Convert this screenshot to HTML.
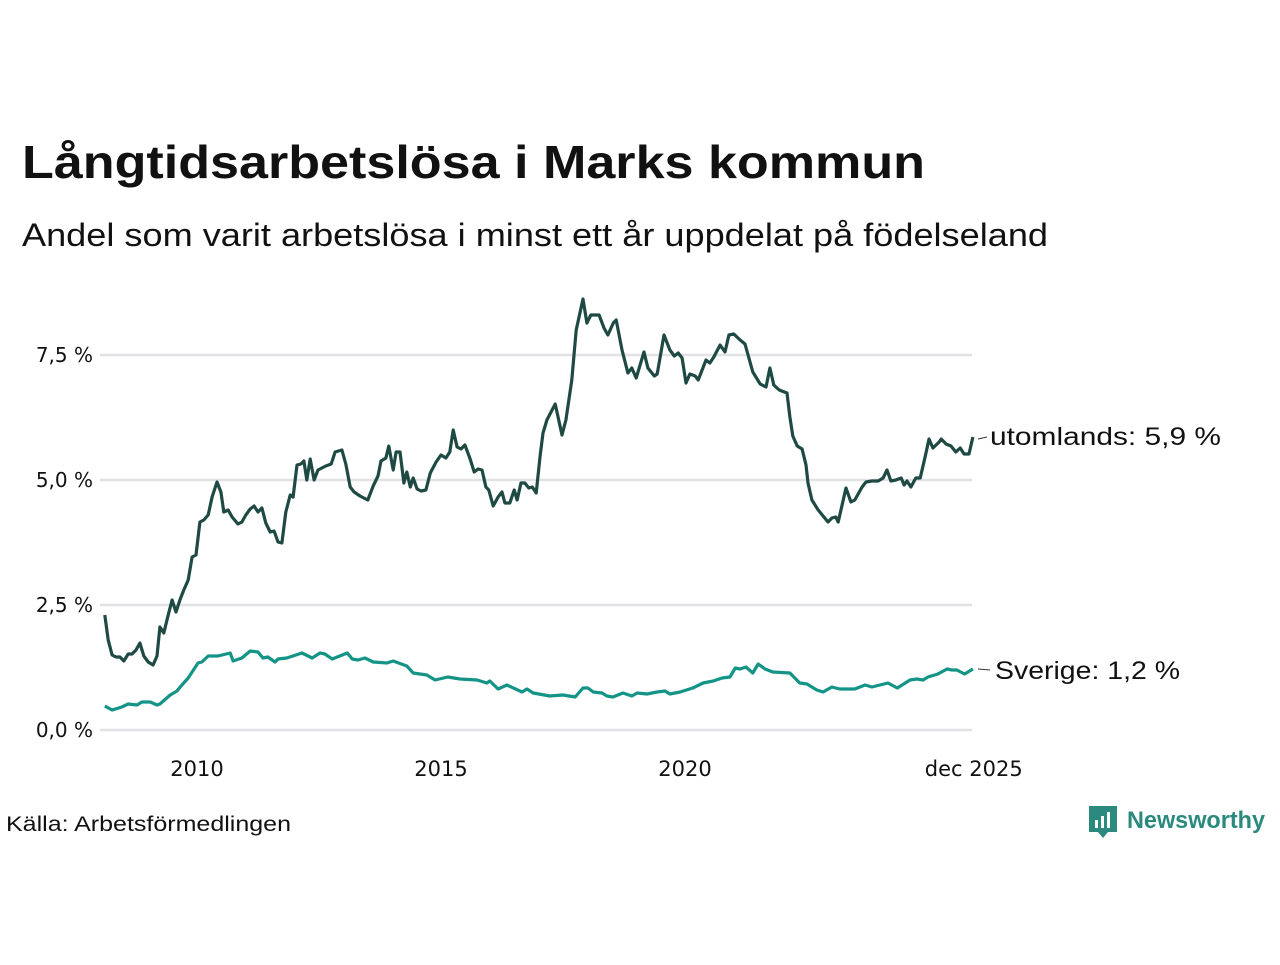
<!DOCTYPE html>
<html><head><meta charset="utf-8"><style>
body{margin:0;background:#fff;}
svg text{font-family:"Liberation Sans",sans-serif;}
svg text.dv{font-family:"DejaVu Sans",sans-serif;}
</style></head><body>
<svg width="1280" height="960" viewBox="0 0 1280 960" xmlns="http://www.w3.org/2000/svg">
<rect width="1280" height="960" fill="#fff"/>
<text x="22" y="178" font-size="46" font-weight="bold" fill="#111" textLength="903" lengthAdjust="spacingAndGlyphs">Långtidsarbetslösa i Marks kommun</text>
<text x="22" y="246" font-size="32" fill="#111" textLength="1026" lengthAdjust="spacingAndGlyphs">Andel som varit arbetslösa i minst ett år uppdelat på födelseland</text>
<g id="grid"></g><g id="axes"></g><g id="lines"></g>
<text x="6" y="831" font-size="21" fill="#111" textLength="285" lengthAdjust="spacingAndGlyphs">Källa: Arbetsförmedlingen</text>
<g>
<path d="M1089 806 h28 v26 h-9 l-5 6 l-5 -6 h-9 z" fill="#2a8a7e"/>
<rect x="1095" y="820" width="3" height="8" fill="#fff"/><rect x="1101" y="816" width="3" height="12" fill="#fff"/><rect x="1107" y="812" width="3" height="16" fill="#fff"/>
<text x="1127" y="828" font-size="24" font-weight="bold" fill="#2a8a7e" textLength="138" lengthAdjust="spacingAndGlyphs">Newsworthy</text>
</g>
</svg>
<script>
const yTicks=[0,2.5,5,7.5];
const yTickLabels=["0,0 %","2,5 %","5,0 %","7,5 %"];
const xTicks=[2010,2015,2020,2025.917];
const xTickLabels=["2010","2015","2020","dec 2025"];
const seriesNames=["utomlands","Sverige"];
const endLabels=["utomlands: 5,9 %","Sverige: 1,2 %"];
const utomDates=[.11,.18,.26,.34,.42,.50,.59,.67,.75,.83,.91,1.0,1.10,1.18,1.24,1.32,1.41,1.49,1.57,1.65,1.73,1.82,1.90,1.98,2.06,2.14,2.23,2.31,2.41,2.49,2.55,2.64,2.72,2.84,2.92,3.0,3.09,3.17,3.25,3.33,3.41,3.50,3.58,3.66,3.74,3.82,3.91,3.97,4.05,4.13,4.19,4.25,4.32,4.40,4.48,4.56,4.64,4.75,4.83,4.97,5.05,5.14,5.22,5.34,5.50,5.61,5.71,5.77,5.87,5.93,6.02,6.08,6.16,6.24,6.30,6.37,6.43,6.51,6.59,6.69,6.78,6.90,7.0,7.10,7.18,7.25,7.33,7.41,7.49,7.59,7.68,7.76,7.84,7.92,7.98,8.07,8.17,8.25,8.31,8.41,8.50,8.56,8.64,8.72,8.80,8.87,8.95,9.03,9.09,9.17,9.34,9.48,9.56,9.68,9.77,9.91,9.99,10.07,10.24,10.34,10.42,10.53,10.59,10.71,10.83,10.91,11.0,11.16,11.24,11.37,11.43,11.57,11.69,11.78,11.86,11.94,12.02,12.10,12.21,12.27,12.43,12.51,12.59,12.72,12.82,12.90,13.0,13.13,13.23,13.39,13.54,13.66,13.74,13.82,13.93,14.09,14.15,14.21,14.30,14.40,14.48,14.52,14.60,14.73,14.83,14.93,15.01,15.09,15.14,15.30,15.40,15.48,15.63,15.71,15.83,15.96,16.06,16.14,16.22,16.32,16.43,16.49,16.55,16.63,16.73,16.82,16.92,17.0,17.08,17.21,17.25,17.35,17.45,17.55,17.64,17.72,17.82,17.90];
const utomValues=[2.30,1.8,1.5,1.46,1.46,1.38,1.52,1.52,1.6,1.74,1.48,1.36,1.3,1.48,2.06,1.94,2.3,2.6,2.36,2.6,2.8,3.0,3.46,3.5,4.16,4.2,4.3,4.66,4.96,4.76,4.36,4.4,4.26,4.12,4.16,4.3,4.42,4.48,4.36,4.44,4.14,3.96,3.98,3.76,3.74,4.36,4.7,4.66,5.3,5.32,5.38,5.0,5.42,5.0,5.2,5.24,5.28,5.32,5.56,5.6,5.32,4.86,4.76,4.68,4.6,4.88,5.08,5.38,5.44,5.68,5.2,5.56,5.56,4.94,5.16,4.86,5.04,4.82,4.78,4.8,5.14,5.36,5.5,5.44,5.56,6.0,5.66,5.62,5.7,5.44,5.16,5.22,5.2,4.86,4.8,4.48,4.66,4.76,4.54,4.54,4.8,4.6,4.94,4.94,4.84,4.86,4.74,5.48,5.94,6.2,6.52,5.9,6.2,7.0,8.0,8.62,8.14,8.3,8.3,8.04,7.9,8.14,8.2,7.6,7.14,7.24,7.04,7.56,7.24,7.08,7.12,7.9,7.6,7.48,7.54,7.44,6.94,7.12,7.08,7.0,7.4,7.34,7.46,7.7,7.56,7.9,7.92,7.8,7.72,7.16,6.92,6.86,7.24,6.9,6.8,6.74,6.26,5.88,5.68,5.62,5.3,4.94,4.6,4.4,4.28,4.16,4.24,4.26,4.16,4.84,4.56,4.6,4.86,4.96,4.98,4.98,5.04,5.2,4.98,5.0,5.04,4.9,4.98,4.86,5.04,5.04,5.46,5.82,5.64,5.76,5.82,5.72,5.68,5.56,5.64,5.52,5.52,5.86];
const sveDates=[.11,.26,.46,.59,.77,.87,1.04,1.18,1.24,1.45,1.59,1.69,1.82,2.02,2.10,2.23,2.43,2.68,2.74,2.92,3.09,3.25,3.35,3.45,3.60,3.66,3.84,4.15,4.36,4.52,4.62,4.77,5.08,5.18,5.30,5.44,5.61,5.89,6.02,6.30,6.43,6.57,6.71,6.88,7.14,7.39,7.74,7.94,8.0,8.17,8.35,8.66,8.76,8.89,9.23,9.50,9.75,9.91,10.01,10.12,10.30,10.40,10.52,10.73,10.91,11.02,11.22,11.43,11.59,11.69,11.90,12.16,12.37,12.58,12.76,12.92,13.03,13.13,13.25,13.39,13.50,13.64,13.80,14.15,14.35,14.50,14.70,14.83,15.01,15.17,15.48,15.69,15.83,16.16,16.35,16.61,16.75,16.88,16.98,17.18,17.37,17.47,17.57,17.73,17.90];
const sveValues=[0.48,0.40,0.46,0.52,0.50,0.56,0.56,0.50,0.52,0.70,0.78,0.90,1.04,1.34,1.36,1.48,1.48,1.54,1.38,1.44,1.58,1.56,1.44,1.46,1.36,1.42,1.44,1.54,1.44,1.54,1.52,1.42,1.54,1.42,1.40,1.44,1.36,1.34,1.38,1.28,1.14,1.12,1.10,1.00,1.06,1.02,1.00,0.94,0.98,0.82,0.90,0.76,0.82,0.74,0.68,0.70,0.66,0.84,0.84,0.76,0.74,0.68,0.66,0.74,0.68,0.74,0.72,0.76,0.78,0.72,0.76,0.84,0.94,0.98,1.04,1.06,1.24,1.22,1.26,1.14,1.32,1.22,1.16,1.14,0.94,0.92,0.80,0.76,0.86,0.82,0.82,0.90,0.86,0.94,0.84,1.00,1.02,1.00,1.06,1.12,1.22,1.20,1.20,1.12,1.22];
const NS="http://www.w3.org/2000/svg";
const X=t=>99.4+(t-2008)*48.8;
const Y=v=>730-v*50;
function mk(tag,attrs,parent,txt){const e=document.createElementNS(NS,tag);for(const k in attrs)e.setAttribute(k,attrs[k]);if(txt!==undefined)e.textContent=txt;parent.appendChild(e);return e;}
const grid=document.getElementById('grid'),axes=document.getElementById('axes'),lines=document.getElementById('lines');
yTicks.forEach((v,i)=>{
 const l=mk('line',{x1:100,x2:972,y1:Y(v),y2:Y(v),stroke:'#e1e1e6','stroke-width':2.5},grid);
 
 
 const t=mk('text',{x:93,y:Y(v)+7,'text-anchor':'end','font-size':20,fill:'#111','class':'dv'},axes,yTickLabels[i]);
 
 
});
xTicks.forEach((v,i)=>{
 const t=mk('text',{x:X(v),y:776,'text-anchor':'middle','font-size':21,fill:'#111','class':'dv'},axes,xTickLabels[i]);
 
 
});
function drawLine(dates,vals,color,name){
 const d=dates.map((t,i)=>(i?'L':'M')+X(2008+t).toFixed(1)+' '+Y(vals[i]).toFixed(1)).join(' ');
 const p=mk('path',{d:d,fill:'none',stroke:color,'stroke-width':3.2,'stroke-linejoin':'round'},lines);
 
 
}
drawLine(sveDates,sveValues,'#139486','line-sverige');
drawLine(utomDates,utomValues,'#1f4a44','line-utomlands');
const lastU=utomValues[utomValues.length-1],lastS=sveValues[sveValues.length-1];
const c1=mk('line',{x1:978,x2:987,y1:Y(lastU)+2,y2:Y(lastU),stroke:'#333','stroke-width':1},lines);


const l1=mk('text',{x:990,y:Y(lastU)+8,'font-size':25,fill:'#111',textLength:231,lengthAdjust:'spacingAndGlyphs'},lines,endLabels[0]);


const c2=mk('line',{x1:978,x2:990,y1:Y(lastS),y2:Y(lastS)+1,stroke:'#333','stroke-width':1},lines);


const l2=mk('text',{x:995,y:Y(lastS)+10,'font-size':25,fill:'#111',textLength:185,lengthAdjust:'spacingAndGlyphs'},lines,endLabels[1]);


</script>
</body></html>
